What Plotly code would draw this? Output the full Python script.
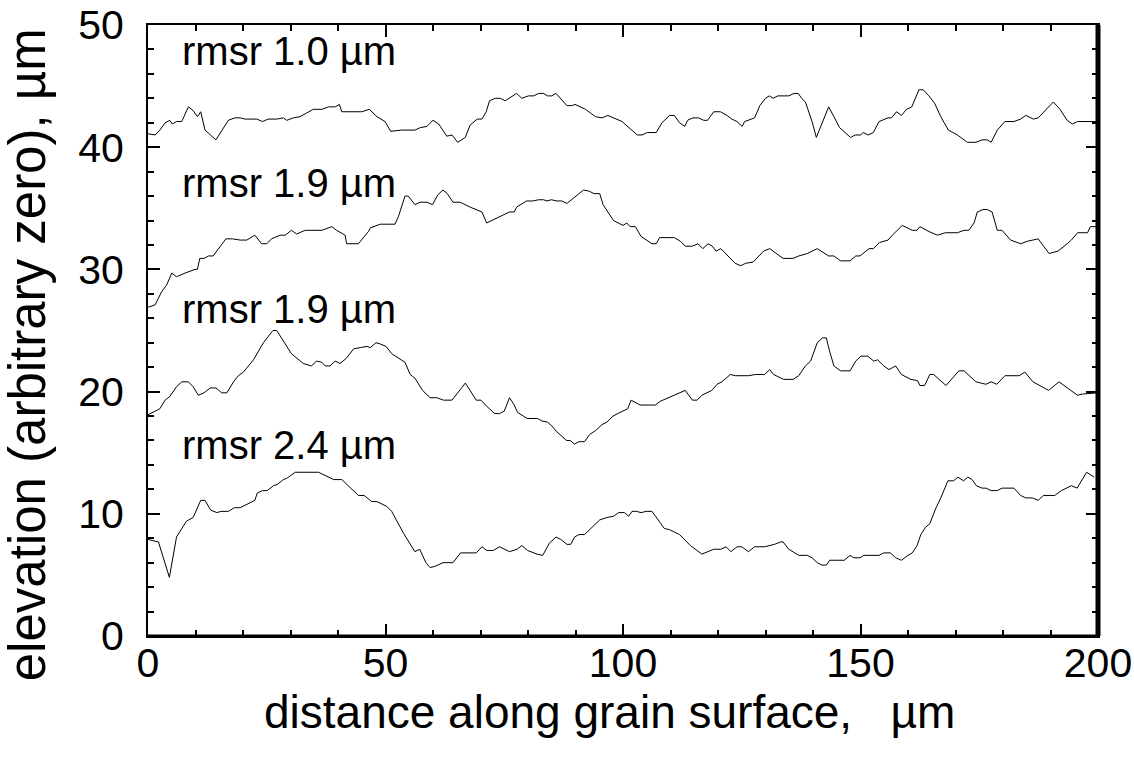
import plotly.graph_objects as go

# ---- data (distance µm, elevation µm) ----
profile_rmsr_1_0 = [
    (0, 41.1), (1.5, 41.0), (2.5, 41.4), (3.6, 42.0), (4.6, 42.2), (5.1, 41.9), (6.0, 42.1), (7.1, 42.1),
    (8.5, 43.3), (9.5, 43.0), (10.4, 42.5), (11.1, 42.9), (12.0, 41.4), (14.3, 40.6), (16.9, 42.2), (18.3, 42.4),
    (19.4, 42.4), (20.4, 42.3), (22.9, 42.3), (24.1, 42.1), (25.3, 42.3), (27.1, 42.3), (28.5, 42.4), (29.2, 42.2),
    (30.6, 42.4), (32.0, 42.5), (33.4, 42.8), (34.8, 43.1), (36.6, 43.1), (38.0, 43.3), (39.4, 43.3), (40.3, 43.5),
    (40.8, 42.9), (42.2, 42.9), (45.0, 42.9), (46.6, 43.1), (48.2, 42.5), (49.9, 42.1), (51.1, 41.3), (53.4, 41.4),
    (56.2, 41.4), (57.3, 41.6), (58.7, 41.7), (60.0, 42.2), (61.2, 41.9), (62.9, 40.9), (64.0, 41.0), (65.2, 40.4),
    (66.8, 40.8), (67.8, 41.8), (69.3, 42.3), (70.3, 42.3), (71.2, 42.9), (71.9, 43.8), (73.1, 44.0), (74.2, 44.0),
    (75.2, 43.8), (77.6, 44.4), (78.7, 44.0), (80.1, 44.2), (81.2, 44.2), (82.2, 44.4), (83.3, 44.4), (84.1, 44.2),
    (85.0, 44.2), (85.9, 44.4), (86.8, 44.0), (88.2, 43.4), (89.2, 43.4), (89.9, 43.5), (92.1, 43.1), (94.2, 42.5),
    (95.6, 42.4), (96.8, 42.6), (99.8, 42.1), (103.0, 41.0), (104.0, 41.0), (105.1, 41.2), (107.0, 41.2), (108.2, 42.0),
    (109.8, 42.6), (110.8, 42.6), (111.9, 42.0), (113.0, 41.7), (113.6, 42.2), (114.7, 42.4), (115.9, 42.4), (117.0, 42.2),
    (117.8, 42.2), (119.1, 42.9), (120.5, 42.9), (121.9, 42.6), (122.9, 42.3), (124.0, 42.1), (125.1, 41.7), (125.6, 42.1),
    (127.7, 42.4), (128.8, 43.4), (130.0, 44.0), (130.8, 44.2), (131.6, 44.0), (132.6, 44.2), (134.9, 44.2), (136.0, 44.4),
    (136.9, 44.4), (137.6, 44.0), (138.4, 43.7), (139.4, 42.5), (139.8, 42.1), (140.7, 40.8), (142.1, 42.2), (143.3, 43.3),
    (144.4, 42.5), (145.6, 41.6), (147.9, 40.8), (148.9, 41.0), (150.0, 41.0), (150.6, 41.2), (151.6, 41.0), (152.7, 41.2),
    (153.9, 42.1), (155.8, 42.4), (156.5, 42.4), (157.6, 42.9), (158.6, 42.6), (159.7, 43.1), (160.8, 43.3), (162.3, 44.7),
    (163.2, 44.7), (164.4, 44.2), (165.6, 43.6), (166.9, 42.5), (168.5, 41.4), (170.4, 41.0), (172.5, 40.4), (174.3, 40.4),
    (175.6, 40.6), (176.7, 40.6), (177.5, 40.4), (178.8, 41.4), (180.4, 42.1), (182.3, 42.1), (183.7, 42.3), (184.8, 42.6),
    (186.4, 42.3), (187.4, 42.4), (190.6, 43.7), (192.0, 43.1), (193.5, 42.2), (194.6, 41.9), (195.7, 42.1), (198.8, 42.1),
    (200, 42.1),
]

profile_rmsr_1_9_a = [
    (0, 26.9), (1.5, 27.1), (2.9, 28.2), (3.9, 28.7), (5.0, 29.7), (6.0, 29.4), (7.8, 29.7), (9.9, 30.0),
    (10.4, 30.0), (10.9, 30.9), (11.8, 30.9), (12.7, 31.1), (13.7, 31.1), (15.2, 31.9), (16.4, 32.5), (17.8, 32.5),
    (19.4, 32.4), (20.8, 32.4), (22.5, 32.8), (23.9, 32.1), (25.0, 32.1), (26.0, 32.5), (27.8, 32.8), (28.9, 32.8),
    (30.2, 33.2), (31.3, 32.9), (33.1, 33.2), (36.6, 33.2), (38.7, 33.5), (39.7, 33.2), (41.5, 32.8), (41.8, 32.1),
    (44.3, 32.1), (46.4, 33.1), (46.8, 33.4), (48.9, 33.7), (52.0, 33.7), (52.7, 34.3), (54.1, 36.0), (54.8, 36.0),
    (56.2, 35.3), (57.3, 35.5), (58.7, 35.5), (59.9, 35.3), (61.0, 36.1), (62.1, 36.5), (63.0, 36.2), (64.2, 35.5),
    (65.7, 35.5), (67.8, 35.1), (70.3, 34.7), (71.3, 33.8), (73.8, 34.3), (76.1, 34.7), (77.1, 34.7), (77.6, 35.1),
    (79.7, 35.6), (81.0, 35.6), (82.2, 35.7), (83.3, 35.7), (84.0, 35.6), (84.9, 35.7), (86.1, 35.6), (87.1, 35.6),
    (88.2, 35.4), (89.2, 35.7), (90.3, 36.1), (91.7, 36.5), (92.9, 36.4), (93.9, 36.2), (95.1, 36.2), (95.8, 35.3),
    (98.0, 34.0), (100.0, 33.6), (100.8, 33.8), (101.5, 33.5), (102.6, 33.5), (103.8, 32.7), (106.1, 32.1), (107.0, 32.1),
    (107.7, 32.6), (110.8, 32.6), (112.1, 32.3), (113.1, 31.9), (114.6, 31.9), (115.8, 32.1), (116.8, 31.7), (117.9, 32.1),
    (118.8, 31.9), (119.6, 31.5), (120.6, 31.7), (123.6, 30.5), (124.8, 30.3), (125.8, 30.5), (127.4, 30.6), (129.6, 31.5),
    (130.9, 31.7), (132.4, 31.3), (133.7, 30.9), (135.8, 30.9), (137.0, 31.1), (138.8, 31.3), (140.9, 31.7), (143.3, 31.1),
    (144.4, 31.1), (145.8, 30.7), (147.8, 30.7), (149.0, 31.1), (149.9, 31.1), (151.8, 31.7), (152.7, 31.7), (154.0, 32.2),
    (155.8, 32.4), (156.7, 32.8), (158.8, 33.6), (160.9, 33.2), (161.9, 33.2), (162.5, 33.5), (164.4, 33.1), (166.2, 32.8),
    (167.9, 33.0), (170.4, 33.0), (171.8, 33.2), (172.8, 33.2), (173.9, 33.8), (174.6, 34.7), (175.8, 34.9), (176.7, 34.9),
    (177.7, 34.7), (178.8, 33.2), (179.8, 33.2), (181.6, 32.4), (183.7, 32.1), (185.1, 32.3), (187.4, 32.5), (189.7, 31.3),
    (191.6, 31.5), (193.5, 32.1), (194.4, 32.4), (195.7, 33.0), (197.8, 33.0), (198.4, 33.5), (200, 33.5),
]

profile_rmsr_1_9_b = [
    (0, 18.1), (1.0, 18.3), (2.5, 18.6), (3.6, 19.3), (4.6, 19.6), (6.0, 20.4), (7.1, 20.8), (8.5, 20.8),
    (9.5, 20.4), (10.6, 19.7), (11.8, 19.9), (13.1, 20.3), (14.3, 20.3), (15.5, 19.9), (16.6, 19.9), (18.0, 20.8),
    (19.0, 21.3), (20.1, 21.6), (22.2, 22.6), (24.3, 24.0), (26.3, 25.0), (27.1, 25.0), (28.5, 24.1), (30.2, 23.1),
    (32.7, 22.3), (34.4, 22.1), (35.5, 22.5), (36.6, 22.4), (37.3, 22.1), (38.3, 22.1), (39.4, 22.5), (40.4, 22.3),
    (41.7, 22.7), (43.3, 23.5), (44.7, 23.6), (46.1, 23.7), (46.8, 23.6), (48.0, 24.0), (48.9, 23.9), (50.1, 23.7),
    (51.3, 23.1), (52.9, 22.7), (54.1, 22.4), (55.2, 21.4), (56.2, 21.1), (57.8, 20.1), (59.4, 19.5), (60.8, 19.5),
    (62.2, 19.3), (64.0, 19.3), (65.7, 20.1), (66.8, 20.7), (67.8, 20.1), (69.1, 19.3), (70.1, 19.3), (71.3, 18.8),
    (73.0, 18.2), (74.0, 18.2), (75.0, 18.4), (76.1, 19.5), (77.1, 18.9), (77.8, 18.3), (79.8, 17.8), (82.0, 17.8),
    (82.9, 17.6), (84.1, 17.5), (85.0, 17.2), (86.1, 16.7), (88.1, 16.0), (88.9, 16.0), (89.8, 15.7), (90.7, 15.9),
    (91.9, 15.9), (93.0, 16.5), (94.2, 16.8), (95.6, 17.3), (96.6, 17.5), (97.9, 18.0), (99.4, 18.3), (101.0, 18.6),
    (101.7, 19.3), (103.6, 18.9), (106.8, 18.9), (107.8, 19.2), (113.1, 20.1), (114.6, 19.3), (115.6, 19.3), (116.6, 19.7),
    (118.7, 20.1), (119.8, 20.6), (120.8, 20.8), (122.6, 21.4), (123.7, 21.3), (126.4, 21.3), (127.9, 21.4), (129.8, 21.4),
    (130.9, 21.8), (131.7, 21.4), (133.8, 21.0), (135.8, 21.0), (137.0, 21.3), (138.4, 22.1), (139.5, 22.5), (140.9, 24.0),
    (142.0, 24.4), (142.8, 24.4), (143.5, 23.3), (144.4, 22.1), (145.8, 21.7), (147.8, 21.7), (149.0, 22.5), (150.1, 22.9),
    (151.5, 22.9), (152.8, 22.5), (153.6, 22.6), (154.9, 22.1), (156.0, 21.8), (157.4, 22.1), (158.6, 21.4), (160.6, 21.0),
    (162.0, 20.9), (162.5, 20.5), (163.5, 20.5), (164.6, 21.4), (165.4, 21.4), (168.0, 20.5), (170.7, 21.7), (171.8, 21.7),
    (174.3, 20.8), (176.4, 20.6), (177.5, 20.8), (178.7, 20.6), (180.4, 21.3), (183.4, 21.3), (184.6, 21.6), (186.3, 20.8),
    (189.6, 20.1), (191.8, 20.8), (193.9, 20.2), (195.7, 19.7), (196.7, 19.8), (200, 19.9),
]

profile_rmsr_2_4 = [
    (0, 7.9), (2.2, 7.7), (4.5, 4.8), (6.0, 8.1), (8.1, 9.4), (9.5, 9.7), (11.1, 11.1), (12.0, 11.1),
    (13.2, 10.3), (14.5, 10.1), (15.4, 10.2), (16.9, 10.2), (18.2, 10.5), (19.4, 10.5), (22.5, 11.1), (23.0, 11.7),
    (24.1, 11.9), (25.1, 11.9), (26.4, 12.3), (27.2, 12.4), (28.5, 12.8), (29.2, 12.9), (31.0, 13.4), (35.9, 13.4),
    (39.1, 12.8), (40.8, 12.8), (44.3, 11.5), (45.5, 11.5), (47.1, 11.0), (48.2, 11.0), (50.3, 10.6), (51.3, 10.2),
    (53.8, 8.4), (56.2, 6.9), (57.2, 7.1), (58.5, 6.0), (59.4, 5.6), (60.4, 5.7), (62.1, 6.0), (64.2, 6.0),
    (65.8, 6.8), (69.1, 6.8), (70.3, 7.3), (71.3, 7.0), (72.7, 7.0), (74.0, 7.3), (76.1, 6.9), (77.7, 7.1),
    (78.7, 7.4), (79.9, 7.0), (81.9, 6.7), (83.1, 6.6), (84.5, 7.6), (85.9, 8.1), (86.9, 7.9), (88.2, 7.5),
    (89.0, 7.5), (89.8, 8.1), (90.7, 8.3), (91.9, 8.3), (95.1, 9.5), (96.6, 9.7), (98.0, 9.8), (99.1, 10.1),
    (100.3, 10.1), (101.2, 9.8), (101.9, 10.2), (102.8, 10.2), (103.8, 10.1), (104.9, 10.2), (106.1, 10.2), (108.7, 8.8),
    (109.8, 8.7), (111.9, 8.3), (114.2, 7.4), (116.6, 6.7), (119.1, 7.1), (120.6, 7.1), (121.7, 7.3), (122.7, 6.9),
    (124.0, 7.3), (125.0, 7.3), (126.4, 6.9), (127.7, 7.3), (129.8, 7.3), (131.0, 7.4), (131.9, 7.5), (133.2, 7.7),
    (133.7, 7.7), (134.9, 7.1), (137.0, 6.6), (138.8, 6.6), (139.8, 6.4), (140.9, 6.0), (141.9, 5.8), (142.8, 5.8),
    (143.5, 6.2), (146.6, 6.2), (147.8, 6.6), (148.6, 6.4), (149.9, 6.4), (150.7, 6.6), (153.9, 6.6), (154.9, 6.8),
    (156.3, 6.8), (157.4, 6.4), (158.6, 6.2), (160.0, 6.6), (160.9, 6.8), (161.9, 7.4), (162.7, 8.3), (163.7, 8.9),
    (164.6, 9.2), (165.8, 10.4), (166.9, 11.3), (168.4, 12.7), (169.6, 12.7), (170.5, 13.0), (171.7, 12.7), (172.6, 13.0),
    (173.5, 12.8), (174.4, 12.3), (175.6, 12.1), (176.4, 12.1), (177.5, 11.9), (178.8, 11.9), (179.8, 12.1), (182.3, 12.1),
    (183.7, 11.5), (184.8, 11.3), (186.2, 11.3), (187.4, 11.1), (188.5, 11.5), (190.9, 11.5), (192.3, 11.9), (194.4, 12.3),
    (195.6, 12.1), (197.6, 13.4), (198.4, 13.2), (199.2, 13.0),
]

profiles = [profile_rmsr_1_0, profile_rmsr_1_9_a, profile_rmsr_1_9_b, profile_rmsr_2_4]
labels = ["rmsr 1.0 µm", "rmsr 1.9 µm", "rmsr 1.9 µm", "rmsr 2.4 µm"]
label_x = [6.7, 6.7, 6.7, 6.7]
label_y = [47.9, 37.1, 26.8, 15.6]

x_ticks = [0, 50, 100, 150, 200]
y_ticks = [0, 10, 20, 30, 40, 50]
x_title = "distance along grain surface,\u00a0\u00a0 µm"
y_title = "elevation (arbitrary zero), µm"

FONT = "Liberation Sans, Arial, Helvetica, sans-serif"

fig = go.Figure()
for prof in profiles:
    xs = [p[0] for p in prof]
    ys = [p[1] for p in prof]
    fig.add_trace(go.Scatter(x=xs, y=ys, mode="lines",
                             line=dict(color="black", width=1),
                             showlegend=False, hoverinfo="skip"))

for t, lx, ly in zip(labels, label_x, label_y):
    fig.add_annotation(x=lx, y=ly, xref="x", yref="y", text=t, showarrow=False,
                       xanchor="left", yanchor="middle",
                       font=dict(family=FONT, size=40, color="black"))

# axis titles placed as annotations for exact positioning
fig.add_annotation(x=0.486, y=-0.124, xref="paper", yref="paper", text=x_title,
                   showarrow=False, xanchor="center", yanchor="middle",
                   font=dict(family=FONT, size=46, color="black"))
fig.add_annotation(x=-0.126, y=0.46, xref="paper", yref="paper", text=y_title,
                   showarrow=False, xanchor="center", yanchor="middle", textangle=-90,
                   font=dict(family=FONT, size=51, color="black"))

axis_common = dict(
    showline=True, linecolor="black", linewidth=2, mirror="ticks",
    ticks="inside", ticklen=12, tickwidth=2, tickcolor="black",
    showgrid=False, zeroline=False, automargin=False,
    ticklabeloverflow="allow",
    tickfont=dict(family=FONT, size=41, color="black"),
)

fig.update_xaxes(range=[0, 200], tickvals=x_ticks,
                 minor=dict(ticks="inside", ticklen=6, tickwidth=2, dtick=10, tickcolor="black", showgrid=False),
                 ticklabelstandoff=-10,
                 **axis_common)
fig.update_yaxes(range=[0, 50], tickvals=y_ticks,
                 minor=dict(ticks="inside", ticklen=6, tickwidth=2, dtick=2, tickcolor="black", showgrid=False),
                 ticklabelstandoff=14,
                 **axis_common)

# heavier right and bottom frame edges as in the reference
fig.add_shape(type="line", xref="paper", yref="paper", x0=1, x1=1, y0=0, y1=1,
              line=dict(color="black", width=5))
fig.add_shape(type="line", xref="paper", yref="paper", x0=0, x1=1, y0=0, y1=0,
              line=dict(color="black", width=3))

fig.update_layout(
    width=1134, height=760,
    margin=dict(l=148, r=36, t=25, b=124),
    plot_bgcolor="white", paper_bgcolor="white",
    font=dict(family=FONT, color="black"),
)

# remove the default 8px page margin so the figure fills the window exactly
fig.write_html("out.html",
               config={"displayModeBar": False},
               post_script="document.body.style.margin='0';document.body.style.overflow='hidden';")
